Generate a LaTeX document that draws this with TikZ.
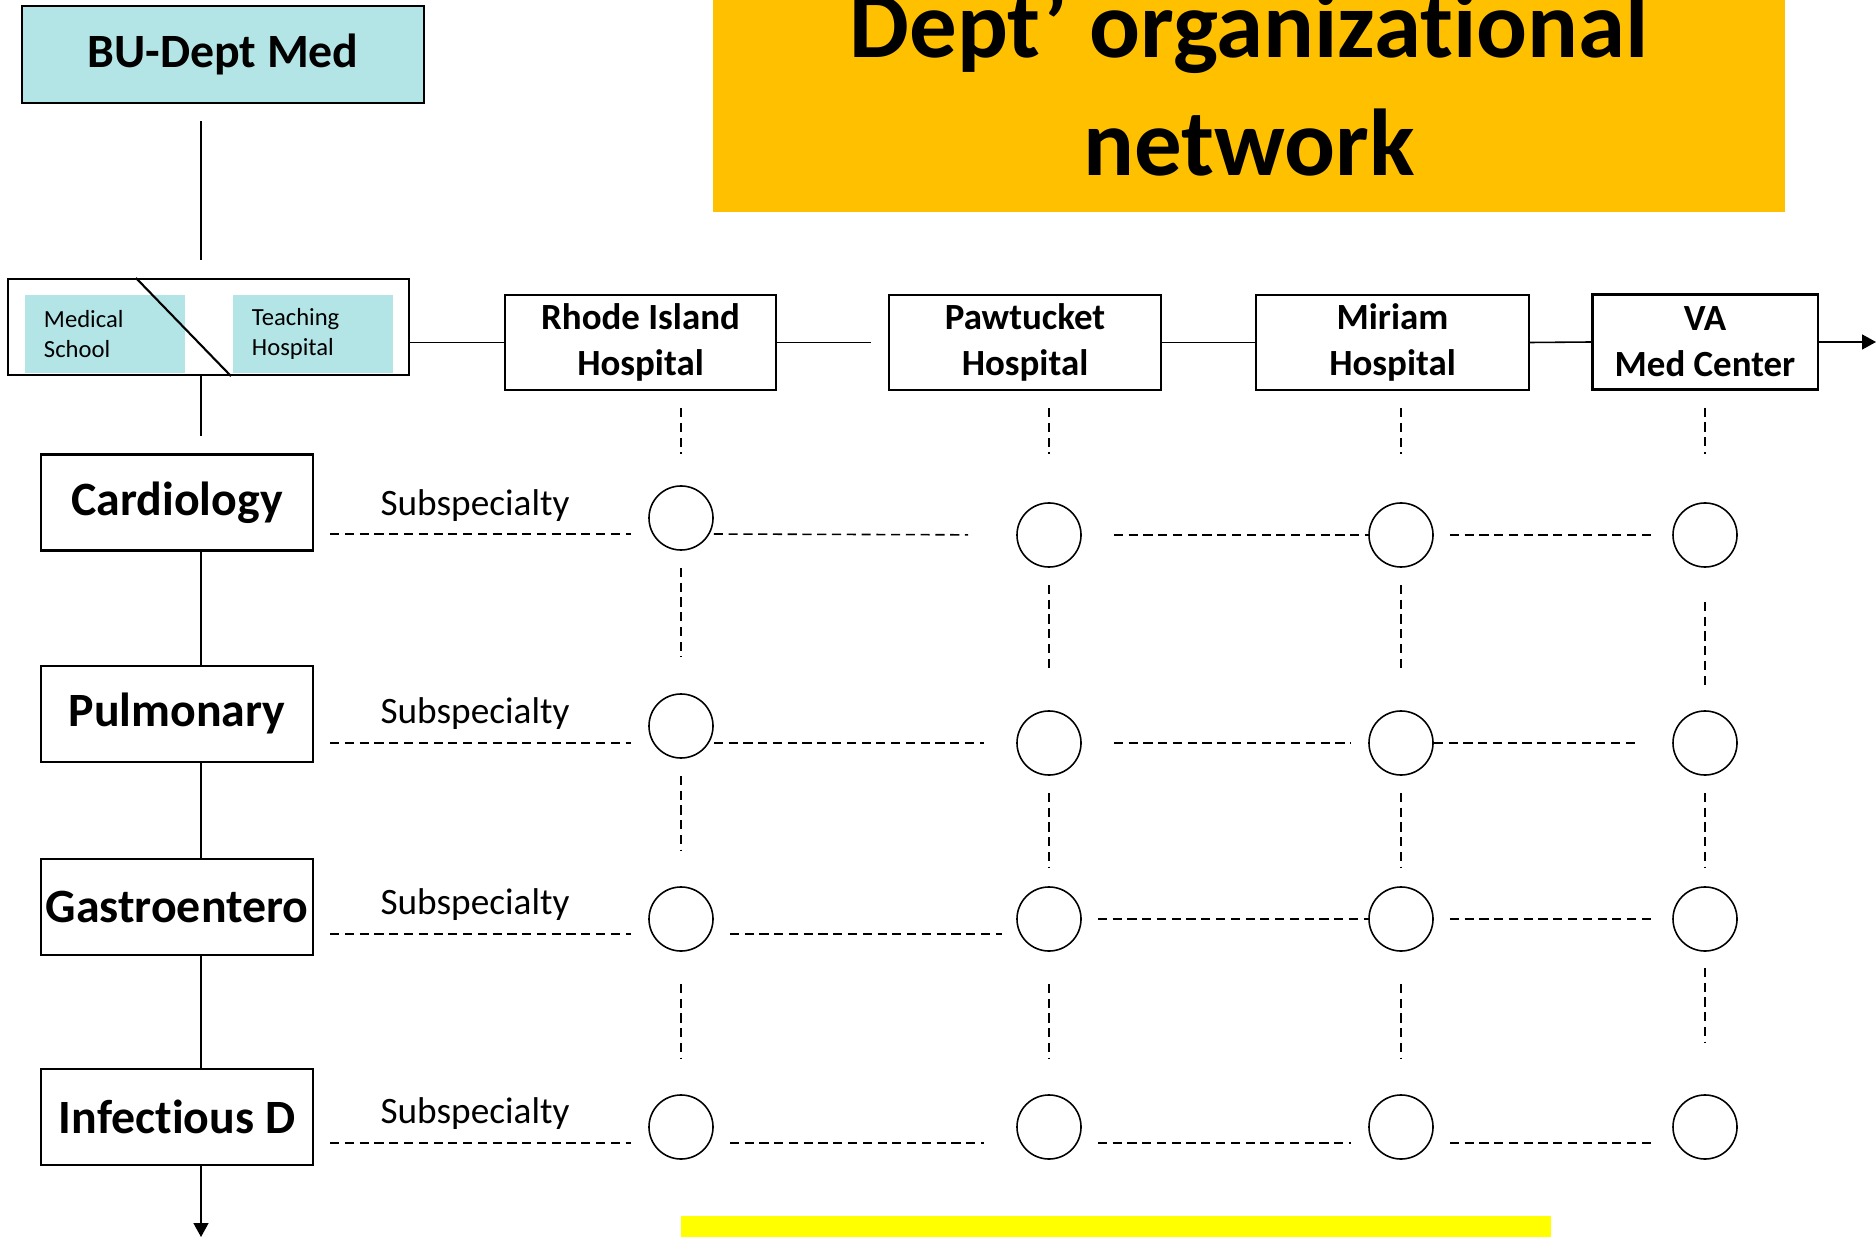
\documentclass[tikz,border=0pt]{standalone}
\usepackage{fontspec}
\setmainfont{Carlito}[Ligatures=NoCommon]
\usetikzlibrary{positioning, arrows.meta}

\definecolor{sitecyan}{RGB}{180,229,230}
\definecolor{titleorange}{RGB}{255,192,0}
\definecolor{baryellow}{RGB}{255,255,0}

\begin{document}
\begin{tikzpicture}[
  x=0.01cm, y=-0.01cm,
  every node/.style={inner sep=0},
  title box/.style={fill=titleorange, minimum width=10.72cm, minimum height=2.12cm},
  title text/.style={align=center, font=\fontsize{27}{33.5}\selectfont\bfseries},
  top box/.style={draw, line width=0.6pt, fill=sitecyan, minimum width=4.02cm, minimum height=0.97cm, font=\fontsize{13.6}{16}\selectfont\bfseries},
  site box/.style={draw, line width=0.6pt, minimum width=4.01cm, minimum height=0.96cm},
  site fill/.style={fill=sitecyan, minimum width=1.6cm, minimum height=0.78cm, text width=1.22cm, inner xsep=0.19cm, align=left, font=\fontsize{7}{8.4}\selectfont},
  hosp box/.style={draw, line width=0.6pt, minimum height=0.95cm, align=center, font=\fontsize{10.5}{13}\selectfont\bfseries},
  dept box/.style={draw, line width=0.6pt, minimum width=2.72cm, minimum height=0.96cm, font=\fontsize{13.6}{16}\selectfont\bfseries},
  sub label/.style={font=\fontsize{10.6}{12.5}\selectfont},
  slot/.style={circle, draw, line width=0.45pt, minimum size=0.64cm},
  link/.style={line width=0.45pt},
  tip link/.style={line width=0.45pt, -{Triangle[length=0.14cm, width=0.15cm]}},
  dash link/.style={line width=0.45pt, dash pattern=on 2.6pt off 1.6pt}
]

\useasboundingbox (0,0) rectangle (1876,1237);

\node[title box] (title) at (1249,106) {};
\node[title text] (titletext) at (1249,82) {Dept’ organizational\\network};
\node[fill=baryellow, minimum width=8.70cm, minimum height=0.30cm] (footbar) at (1116,1231) {};

\coordinate (spine) at (201,0);
\coordinate (spineend) at (201,1237);
\coordinate (netend) at (1876,342);
\coordinate (row1) at (0,534);
\coordinate (row2) at (0,743);
\coordinate (row3) at (0,934);
\coordinate (row4) at (0,1143);

% top of the department
\node[top box] (bu) at (223,54.5) {BU-Dept Med};
\node[site box] (mt) at (208.5,327) {};
\node[site fill] (med) at (105,334) {Medical\\School};
\node[site fill] (teach) at (313,334) {Teaching\\Hospital};
\draw[line width=0.6pt] ([xshift=1.29cm]mt.north west) -- ([xshift=2.24cm]mt.south west);

% hospitals
\node[hosp box, minimum width=2.71cm] (rih) at (640.5,342.5) {Rhode Island\\Hospital};
\node[hosp box, minimum width=2.72cm] (paw) at (1025,342.5) {Pawtucket\\Hospital};
\node[hosp box, minimum width=2.73cm] (mir) at (1392.5,342.5) {Miriam\\Hospital};
\node[hosp box, minimum width=2.25cm] (va) at (1705,342) {VA\\Med Center};

% subspecialties
\node[dept box] (card) at (177,502.5) {Cardiology};
\node[dept box, below=1.13cm of card] (pulm) {Pulmonary};
\node[dept box, below=0.95cm of pulm] (gast) {Gastroentero};
\node[dept box, below=1.12cm of gast] (infd) {Infectious D};

\node[sub label] (sub1) at (475,506) {Subspecialty};
\node[sub label] (sub2) at (475,714) {Subspecialty};
\node[sub label] (sub3) at (475,905) {Subspecialty};
\node[sub label] (sub4) at (475,1114) {Subspecialty};

\node[slot] (c11) at (681,518) {};
\node[slot] (c12) at (1049,535) {};
\node[slot] (c13) at (1401,535) {};
\node[slot] (c14) at (1705,535) {};
\node[slot] (c21) at (681,726) {};
\node[slot] (c22) at (1049,743) {};
\node[slot] (c23) at (1401,743) {};
\node[slot] (c24) at (1705,743) {};
\node[slot] (c31) at (681,919) {};
\node[slot] (c32) at (1049,919) {};
\node[slot] (c33) at (1401,919) {};
\node[slot] (c34) at (1705,919) {};
\node[slot] (c41) at (681,1127) {};
\node[slot] (c42) at (1049,1127) {};
\node[slot] (c43) at (1401,1127) {};
\node[slot] (c44) at (1705,1127) {};

% solid links
\draw[link, shorten <=0.17cm, shorten >=0.18cm] (bu.south -| spine) -- (mt.north -| spine);
\draw[link, shorten >=0.17cm] (mt.south -| spine) -- (card.north -| spine);
\draw[link] (card.south -| spine) -- (pulm.north -| spine);
\draw[link] (pulm.south -| spine) -- (gast.north -| spine);
\draw[link] (gast.south -| spine) -- (infd.north -| spine);
\draw[tip link] (infd.south -| spine) -- (spineend);

\draw[link] (mt.east |- rih.west) -- (rih.west);
\draw[link, shorten >=0.17cm] (rih.east) -- (paw.west);
\draw[link] (paw.east) -- (mir.west);
\draw[link] (mir.east) -- (va.west);
\draw[tip link] (va.east) -- (netend);

% row 1
\draw[dash link, shorten <=0.16cm, shorten >=0.17cm] (card.east |- row1) -- (c11.west |- row1);
\draw[dash link, shorten >=0.48cm] (c11.east |- row1) -- (c12.west);
\draw[dash link, shorten <=0.32cm] (c12.east) -- (c13.west);
\draw[dash link, shorten <=0.16cm, shorten >=0.18cm] (c13.east) -- (c14.west);

% row 2
\draw[dash link, shorten <=0.16cm, shorten >=0.17cm] (pulm.east |- row2) -- (c21.west |- row2);
\draw[dash link, shorten >=0.32cm] (c21.east |- row2) -- (c22.west);
\draw[dash link, shorten <=0.32cm, shorten >=0.17cm] (c22.east) -- (c23.west);
\draw[dash link, shorten >=0.36cm] (c23.east) -- (c24.west);

% row 3
\draw[dash link, shorten <=0.16cm, shorten >=0.17cm] (gast.east |- row3) -- (c31.west |- row3);
\draw[dash link, shorten <=0.16cm, shorten >=0.14cm] (c31.east |- row3) -- (c32.west |- row3);
\draw[dash link, shorten <=0.16cm] (c32.east) -- (c33.west);
\draw[dash link, shorten <=0.16cm, shorten >=0.18cm] (c33.east) -- (c34.west);

% row 4
\draw[dash link, shorten <=0.16cm, shorten >=0.17cm] (infd.east |- row4) -- (c41.west |- row4);
\draw[dash link, shorten <=0.16cm, shorten >=0.32cm] (c41.east |- row4) -- (c42.west |- row4);
\draw[dash link, shorten <=0.16cm, shorten >=0.17cm] (c42.east |- row4) -- (c43.west |- row4);
\draw[dash link, shorten <=0.16cm, shorten >=0.18cm] (c43.east |- row4) -- (c44.west |- row4);

% columns
\draw[dash link, shorten <=0.17cm, shorten >=0.31cm] (rih.south -| c11) -- (c11.north);
\draw[dash link, shorten <=0.17cm, shorten >=0.36cm] (c11) -- (c21);
\draw[dash link, shorten <=0.17cm, shorten >=0.35cm] (c21) -- (c31);
\draw[dash link, shorten <=0.32cm, shorten >=0.35cm] (c31) -- (c41);

\draw[dash link, shorten <=0.17cm, shorten >=0.48cm] (paw.south -| c12) -- (c12.north);
\draw[dash link, shorten <=0.17cm, shorten >=0.37cm] (c12) -- (c22);
\draw[dash link, shorten <=0.17cm, shorten >=0.18cm] (c22) -- (c32);
\draw[dash link, shorten <=0.32cm, shorten >=0.35cm] (c32) -- (c42);

\draw[dash link, shorten <=0.17cm, shorten >=0.48cm] (mir.south -| c13) -- (c13.north);
\draw[dash link, shorten <=0.17cm, shorten >=0.37cm] (c13) -- (c23);
\draw[dash link, shorten <=0.17cm, shorten >=0.18cm] (c23) -- (c33);
\draw[dash link, shorten <=0.32cm, shorten >=0.35cm] (c33) -- (c43);

\draw[dash link, shorten <=0.17cm, shorten >=0.48cm] (va.south -| c14) -- (c14.north);
\draw[dash link, shorten <=0.34cm, shorten >=0.21cm] (c14) -- (c24);
\draw[dash link, shorten <=0.17cm, shorten >=0.18cm] (c24) -- (c34);
\draw[dash link, shorten <=0.16cm, shorten >=0.52cm] (c34) -- (c44);

\end{tikzpicture}
\end{document}
